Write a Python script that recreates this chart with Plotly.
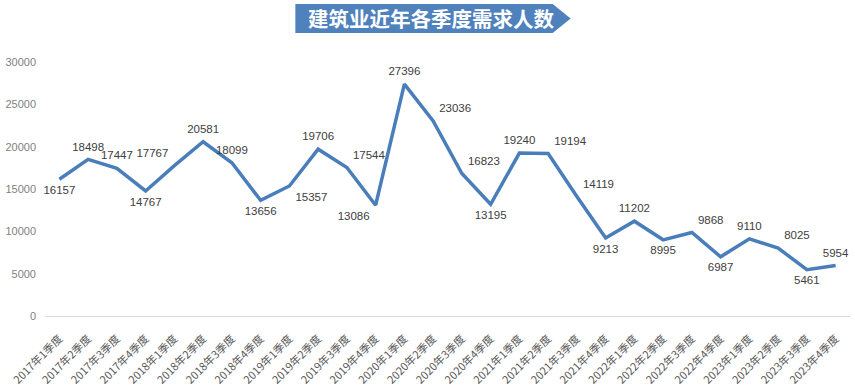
import plotly.graph_objects as go

categories = [f"{y}年{q}季度" for y in range(2017, 2024) for q in range(1, 5)]
values = [16157, 18498, 17447, 14767,
          17767, 20581, 18099, 13656,
          15357, 19706, 17544, 13086,
          27396, 23036, 16823, 13195,
          19240, 19194, 14119, 9213,
          11202, 8995, 9868, 6987,
          9110, 8025, 5461, 5954]
label_pos = ["bottom center", "top center", "top center", "bottom center",
             "top left", "top center", "top center", "bottom center",
             "bottom right", "top center", "top right", "bottom left",
             "top center", "top right", "top right", "bottom center",
             "top center", "top right", "top right", "bottom center",
             "top center", "bottom center", "top right", "bottom center",
             "top center", "top right", "bottom center", "top center"]
y_ticks = [0, 5000, 10000, 15000, 20000, 25000, 30000]
y_ticktext = [str(v) for v in y_ticks]
title = "建筑业近年各季度需求人数"

fig = go.Figure()
fig.add_trace(go.Scatter(
    x=categories, y=values, mode="lines+markers+text",
    line=dict(color="#4A7EBB", width=3.5),
    marker=dict(size=8, color="rgba(0,0,0,0)"),
    text=[str(v) for v in values], textposition=label_pos,
    textfont=dict(family="Liberation Sans, Arial", size=11.5, color="#404040"),
    cliponaxis=False, hoverinfo="x+y", showlegend=False,
))

fig.update_layout(
    width=855, height=392,
    margin=dict(l=43, r=5, t=62, b=76),
    paper_bgcolor="white", plot_bgcolor="white",
    xaxis=dict(type="category", range=[-0.5, len(categories) - 0.5],
               tickangle=-45, showgrid=False, showline=True,
               linecolor="#D9D9D9", linewidth=1,
               ticks="outside", ticklen=11, tickcolor="rgba(0,0,0,0)",
               automargin=False,
               tickfont=dict(family="Noto Sans CJK SC", size=11, color="#595959")),
    yaxis=dict(range=[0, 30000], tickvals=y_ticks, ticktext=y_ticktext,
               showgrid=False, zeroline=False, showline=False, ticks="",
               ticklabelstandoff=8,
               tickfont=dict(family="Liberation Sans, Arial", size=11, color="#7F7F7F")),
    shapes=[dict(type="path", xref="paper", yref="paper",
                 path="M 0.3110 1.1142 L 0.3110 1.2283 L 0.6307 1.2283 L 0.6530 1.1713 L 0.6307 1.1142 Z",
                 fillcolor="#4F81BD", line=dict(width=0), layer="above")],
    annotations=[dict(text=f"<b>{title}</b>", xref="paper", yref="paper",
                      x=0.4796, y=1.1713, xanchor="center", yanchor="middle",
                      showarrow=False,
                      font=dict(family="Noto Sans CJK SC", size=20.5, color="white"))],
)

fig.write_html("out.html", config={"displayModeBar": False},
               post_script="document.body.style.margin='0';document.body.style.overflow='hidden';")
